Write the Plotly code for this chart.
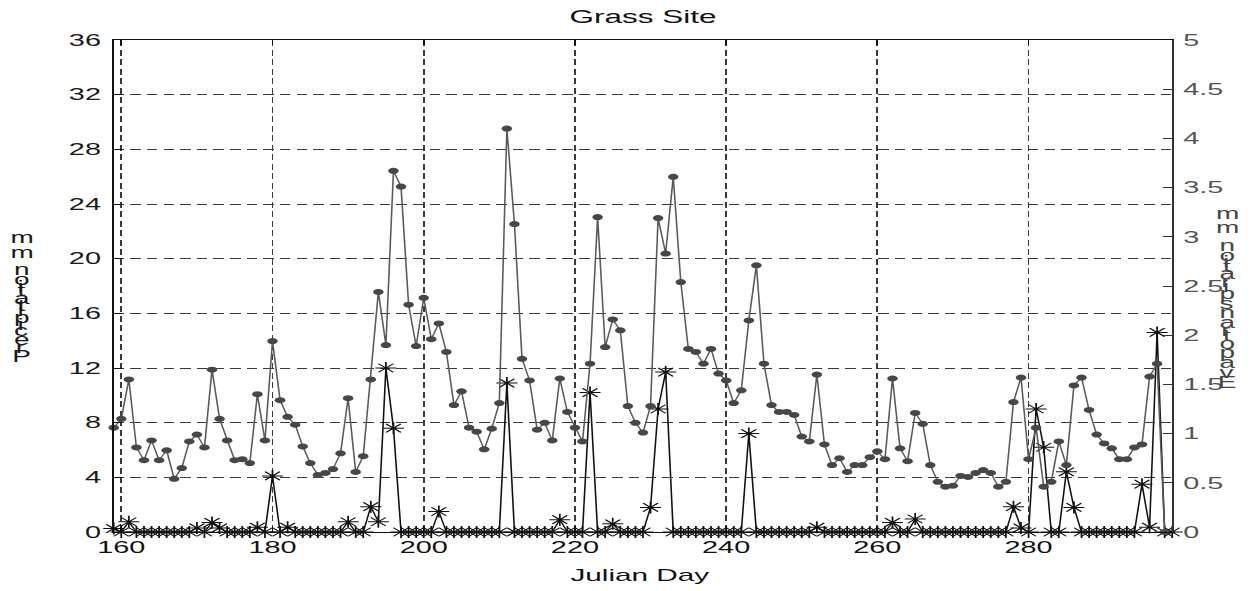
import plotly.graph_objects as go

# ---- data -----------------------------------------------------------------
# Julian days of the daily record
et_days = list(range(159, 299))
precip_days = list(range(159, 300))

# Daily evapotranspiration (mm), days 159-298
evapotranspiration_mm = [
    1.06, 1.15, 1.55, 0.86, 0.73, 0.93, 0.73, 0.83, 0.54, 0.65,
    0.92, 0.99, 0.86, 1.65, 1.15, 0.93, 0.73, 0.74, 0.70, 1.40,
    0.93, 1.94, 1.34, 1.17, 1.09, 0.87, 0.70, 0.58, 0.60, 0.64,
    0.80, 1.36, 0.61, 0.77, 1.55, 2.44, 1.90, 3.67, 3.51, 2.31,
    1.89, 2.38, 1.96, 2.12, 1.83, 1.29, 1.43, 1.06, 1.02, 0.84,
    1.05, 1.31, 4.10, 3.13, 1.76, 1.54, 1.04, 1.11, 0.93, 1.56,
    1.22, 1.06, 0.92, 1.71, 3.20, 1.88, 2.16, 2.05, 1.28, 1.11,
    1.01, 1.28, 3.19, 2.83, 3.61, 2.54, 1.86, 1.83, 1.71, 1.86,
    1.61, 1.54, 1.31, 1.44, 2.15, 2.71, 1.71, 1.29, 1.22, 1.22,
    1.19, 0.97, 0.92, 1.60, 0.89, 0.68, 0.75, 0.61, 0.68, 0.68,
    0.76, 0.82, 0.74, 1.56, 0.85, 0.72, 1.21, 1.10, 0.68, 0.51,
    0.46, 0.47, 0.57, 0.56, 0.60, 0.63, 0.60, 0.46, 0.51, 1.32,
    1.57, 0.74, 1.06, 0.46, 0.51, 0.92, 0.68, 1.49, 1.57, 1.24,
    0.99, 0.90, 0.85, 0.74, 0.74, 0.86, 0.89, 1.58, 1.71, 0.00,
]

# Daily precipitation (mm), days 159-299
precipitation_mm = [
    0.25, 0, 0.75, 0, 0, 0, 0, 0, 0, 0,
    0, 0.3, 0, 0.7, 0.3, 0, 0, 0, 0, 0.35,
    0, 4.1, 0, 0.35, 0, 0, 0, 0, 0, 0,
    0, 0.75, 0, 0, 1.85, 0.75, 12.0, 7.6, 0, 0,
    0, 0, 0, 1.5, 0, 0, 0, 0, 0, 0,
    0, 0, 10.9, 0, 0, 0, 0, 0, 0, 0.9,
    0, 0, 0, 10.2, 0, 0, 0.6, 0, 0, 0,
    0, 1.8, 9.0, 11.7, 0, 0, 0, 0, 0, 0,
    0, 0, 0, 0, 7.2, 0, 0, 0, 0, 0,
    0, 0, 0, 0.35, 0, 0, 0, 0, 0, 0,
    0, 0, 0, 0.7, 0, 0, 0.95, 0, 0, 0,
    0, 0, 0, 0, 0, 0, 0, 0, 0, 1.85,
    0.3, 0, 9.0, 6.2, 0, 0, 4.4, 1.8, 0, 0,
    0, 0, 0, 0, 0, 0, 3.5, 0.35, 14.6, 0,
    0,
]

x_ticks = [160, 180, 200, 220, 240, 260, 280]
precip_ticks = [0, 4, 8, 12, 16, 20, 24, 28, 32, 36]
et_ticks = [0, 0.5, 1, 1.5, 2, 2.5, 3, 3.5, 4, 4.5, 5]

# ---- page geometry ----------------------------------------------------------
# The figure is laid out narrow and then stretched sideways on the page.
STRETCH = 1.7496
W, H = 715, 591
ML, MR, MT, MB = 65, 45, 40, 59
PW, PH = W - ML - MR, H - MT - MB
FONT = "Liberation Sans, Arial, sans-serif"


def paper_x(x_screen):
    return (x_screen / STRETCH - ML) / PW


def paper_y(y_screen):
    return (H - MB - y_screen) / PH


fig = go.Figure()

fig.add_trace(go.Scatter(
    x=et_days, y=evapotranspiration_mm, yaxis="y2", mode="lines+markers",
    name="Evapotranspiration",
    line=dict(color="#5a5a5a", width=0.9),
    marker=dict(symbol="circle", size=6, color="#474747"),
    cliponaxis=False, showlegend=False,
))

fig.add_trace(go.Scatter(
    x=precip_days, y=precipitation_mm, mode="lines+markers",
    name="Precipitation",
    line=dict(color="#111111", width=0.9),
    marker=dict(symbol="asterisk-open", size=10, color="#111111",
                line=dict(width=1, color="#111111")),
    cliponaxis=False, showlegend=False,
))

grid_dash = "6px,3.5px"

fig.update_layout(
    width=W, height=H,
    margin=dict(l=ML, r=MR, t=MT, b=MB),
    paper_bgcolor="white", plot_bgcolor="white",
    font=dict(family=FONT, size=16.5, color="#1a1a1a"),
    title=dict(text="Grass Site", x=0.5, xref="paper", xanchor="center",
               y=1 - 17 / H, yref="container", yanchor="middle",
               font=dict(family=FONT, size=18, color="#111111")),
    xaxis=dict(
        range=[159, 299], tickvals=x_ticks, ticks="inside", ticklen=5,
        tickcolor="#111111", showline=True, linecolor="#111111", linewidth=1,
        mirror="ticks", showgrid=True, gridcolor="#3a3a3a", gridwidth=1,
        griddash=grid_dash, zeroline=False,
        tickfont=dict(family=FONT, size=16.5, color="#111111"),
    ),
    yaxis=dict(
        range=[0, 36], tickvals=precip_ticks, ticks="inside", ticklen=5,
        tickcolor="#111111", showline=True, linecolor="#111111", linewidth=1,
        mirror=True, showgrid=True, gridcolor="#3a3a3a", gridwidth=1,
        griddash=grid_dash, zeroline=False, ticklabelstandoff=3,
        tickfont=dict(family=FONT, size=16.5, color="#1a1a1a"),
    ),
    yaxis2=dict(
        range=[0, 5], tickvals=et_ticks, overlaying="y", side="right",
        ticks="inside", ticklen=5, tickcolor="#333333", showline=True,
        linecolor="#333333", linewidth=1, showgrid=False, zeroline=False,
        ticklabelstandoff=2,
        tickfont=dict(family=FONT, size=16.5, color="#555555"),
    ),
)

# ---- axis titles -------------------------------------------------------------
annotations = [dict(
    text="Julian Day", x=paper_x(640), y=paper_y(575), xref="paper", yref="paper",
    xanchor="center", yanchor="middle", showarrow=False,
    font=dict(family=FONT, size=17, color="#111111"),
)]

# Vertical titles are drawn as upright glyphs stacked along the axis,
# each glyph advanced by its own width.
ADVANCE = {"P": .667, "r": .333, "e": .556, "c": .5, "i": .222, "p": .556,
           "t": .278, "a": .556, "o": .556, "n": .556, " ": .278, "m": .833,
           "E": .667, "v": .5, "s": .5}
EM = 17.8


def stacked_title(label, x_screen, y_top_char, color):
    centers, pos = [], 0.0
    for ch in label:
        centers.append(pos + ADVANCE[ch] / 2)
        pos += ADVANCE[ch]
    top = centers[-1]
    for ch, c in zip(label, centers):
        if ch == " ":
            continue
        annotations.append(dict(
            text=ch, x=paper_x(x_screen), y=paper_y(y_top_char + (top - c) * EM),
            xref="paper", yref="paper", xanchor="center", yanchor="middle",
            showarrow=False, font=dict(family=FONT, size=16, color=color),
        ))


stacked_title("Precipitation mm", 21, 237.5, "#1a1a1a")
stacked_title("Evapotranspiration mm", 1227, 213, "#444444")

fig.update_layout(annotations=annotations)

post = """
document.documentElement.style.margin = '0';
document.body.style.margin = '0';
document.body.style.overflow = 'hidden';
var gd = document.getElementById('{plot_id}');
gd.style.transformOrigin = '0 0';
gd.style.transform = 'scaleX(%s)';
""" % STRETCH

fig.write_html("out.html", config={"displayModeBar": False}, post_script=post)
